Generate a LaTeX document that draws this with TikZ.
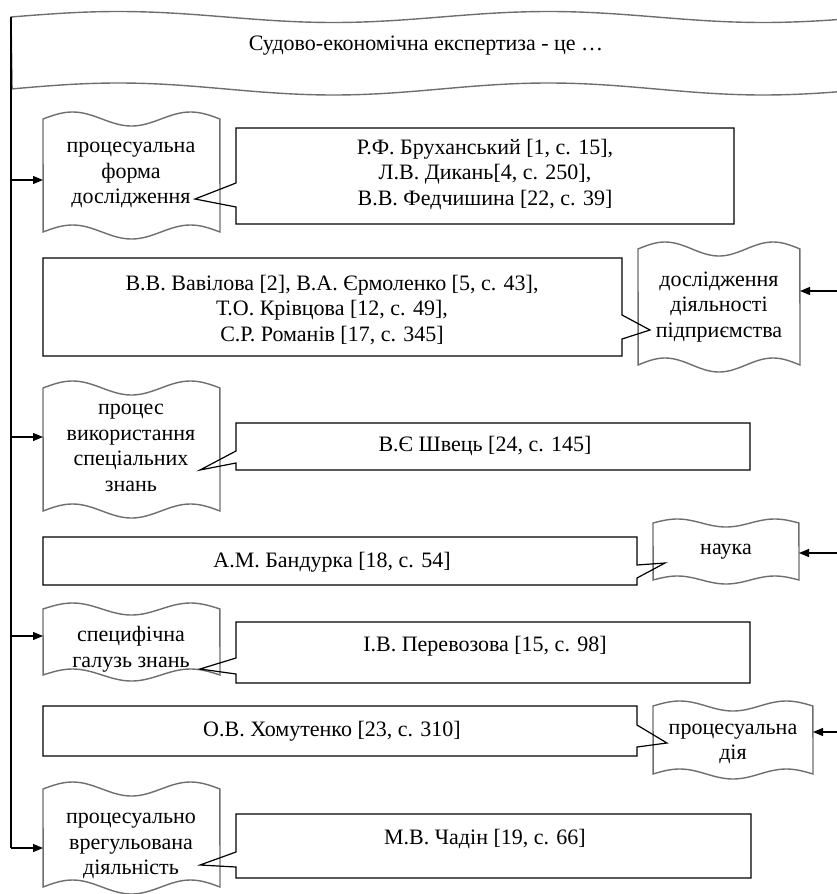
\documentclass[tikz,border=0pt]{standalone}
\usepackage{fontspec}
\setmainfont{Liberation Serif}
\usetikzlibrary{arrows.meta}
\definecolor{wavegray}{HTML}{6E6E6E}
% #1 name, #2 x1, #3 x2, #4 top mid, #5 bottom mid, #6 amplitude
\newcommand\wavyshape[6]{%
  \draw[wave] plot[domain=0:1,samples=60,variable=\t] ({#2+\t*(#3-#2)},{#4-#6*sin(540*\t)})
    -- plot[domain=1:0,samples=60,variable=\t] ({#2+\t*(#3-#2)},{#5-#6*sin(540*\t)}) -- cycle;
  \node[boxnode, minimum width={#3-#2}, minimum height={#5-#4}] (#1) at ({(#2+#3)/2},{(#4+#5)/2}) {};
}
\begin{document}
\begin{tikzpicture}[x=1pt,y=-1pt,
  wave/.style={draw=wavegray, line width=1.4pt},
  callout/.style={draw=black, line width=1.2pt, line join=miter},
  boxnode/.style={inner sep=0pt, outer sep=0pt, draw=none},
  lbl/.style={font=\fontsize{22}{25.5}\selectfont, align=center, inner sep=0pt},
  arr/.style={draw=black, line width=1.2pt, -{Triangle[length=10pt,width=8pt]}},
  trunk/.style={draw=black, line width=1.2pt},
]
\useasboundingbox (0,0) rectangle (837,894);

% banner
\draw[wave] plot[domain=0:1,samples=120,variable=\t] ({11+835*\t},{17-5.5*sin(699.07*\t)})
  -- plot[domain=1:0,samples=120,variable=\t] ({11+835*\t},{89-6*sin(699.07*\t)}) -- cycle;
\node[lbl] (title) at (426,46) {Судово-економічна експертиза - це …};

% left wavy boxes
\wavyshape{L1}{43}{220}{119}{232}{7}
\wavyshape{L2}{43}{220}{388}{511}{7}
\wavyshape{L3}{43}{220}{609}{675}{6}
\wavyshape{L4}{43}{220}{789}{887}{7}
% right wavy boxes
\wavyshape{R1}{638}{800}{249}{365}{7}
\wavyshape{R2}{653}{799}{523}{580}{4}
\wavyshape{R3}{653}{813}{706}{774}{5}

\node[lbl] (L1t) at (131,175) {процесуальна\\форма\\дослідження};
\node[lbl] (L2t) at (131,448) {процес\\використання\\спеціальних\\знань};
\node[lbl] (L3t) at (131,649) {специфічна\\галузь знань};
\node[lbl] (L4t) at (131,846) {процесуально\\врегульована\\діяльність};
\node[lbl] (R1t) at (719,307) {дослідження\\діяльності\\підприємства};
\node[lbl] (R2t) at (726,552) {наука};
\node[lbl] (R3t) at (733,744) {процесуальна\\дія};

% callouts
\draw[callout] (236,128) -- (734,128) -- (734,224) -- (236,224) -- (236,207) -- (195,199) -- (236,183) -- cycle;
\draw[callout] (43,258) -- (622,258) -- (622,315) -- (650,330) -- (622,339) -- (622,356) -- (43,356) -- cycle;
\draw[callout] (236,423) -- (750,423) -- (750,470) -- (236,470) -- (236,463) -- (200,470) -- (236,451) -- cycle;
\draw[callout] (43,537) -- (637,537) -- (637,565) -- (665,563) -- (637,578) -- (637,585) -- (43,585) -- cycle;
\draw[callout] (236,622) -- (750,622) -- (750,683) -- (236,683) -- (236,674) -- (200,669) -- (236,658) -- cycle;
\draw[callout] (43,706) -- (637,706) -- (637,725) -- (667,743) -- (637,747) -- (637,756) -- (43,756) -- cycle;
\draw[callout] (236,814) -- (751,814) -- (751,878) -- (236,878) -- (236,867) -- (200,865) -- (236,852) -- cycle;

\node[lbl] (C1) at (485,174) {Р.Ф. Бруханський [1, с. 15],\\Л.В. Дикань[4, с. 250],\\В.В. Федчишина [22, с. 39]};
\node[lbl] (C2) at (332,310) {В.В. Вавілова [2], В.А. Єрмоленко [5, с. 43],\\Т.О. Крівцова [12, с. 49],\\С.Р. Романів [17, с. 345]};
\node[lbl] (C3) at (485,446) {В.Є Швець [24, с. 145]};
\node[lbl] (C4) at (332,562) {А.М. Бандурка [18, с. 54]};
\node[lbl] (C5) at (485,646) {І.В. Перевозова [15, с. 98]};
\node[lbl] (C6) at (332,731) {О.В. Хомутенко [23, с. 310]};
\node[lbl] (C7) at (485,839) {М.В. Чадін [19, с. 66]};

% left trunk and arrows
\coordinate (ttop) at (11,17);
\coordinate (t1) at (11,180);
\coordinate (t2) at (11,437);
\coordinate (t3) at (11,636);
\coordinate (t4) at (11,848);
\draw[trunk] (ttop) -- (t4);
\draw[arr] (t1) -- (t1 -| L1.west);
\draw[arr] (t2) -- (t2 -| L2.west);
\draw[arr] (t3) -- (t3 -| L3.west);
\draw[arr] (t4) -- (t4 -| L4.west);

% right arrows
\coordinate (r1) at (840,291);
\coordinate (r2) at (840,553);
\coordinate (r3) at (840,732);
\draw[arr] (r1) -- (r1 -| R1.east);
\draw[arr] (r2) -- (r2 -| R2.east);
\draw[arr] (r3) -- (r3 -| R3.east);
\end{tikzpicture}
\end{document}
